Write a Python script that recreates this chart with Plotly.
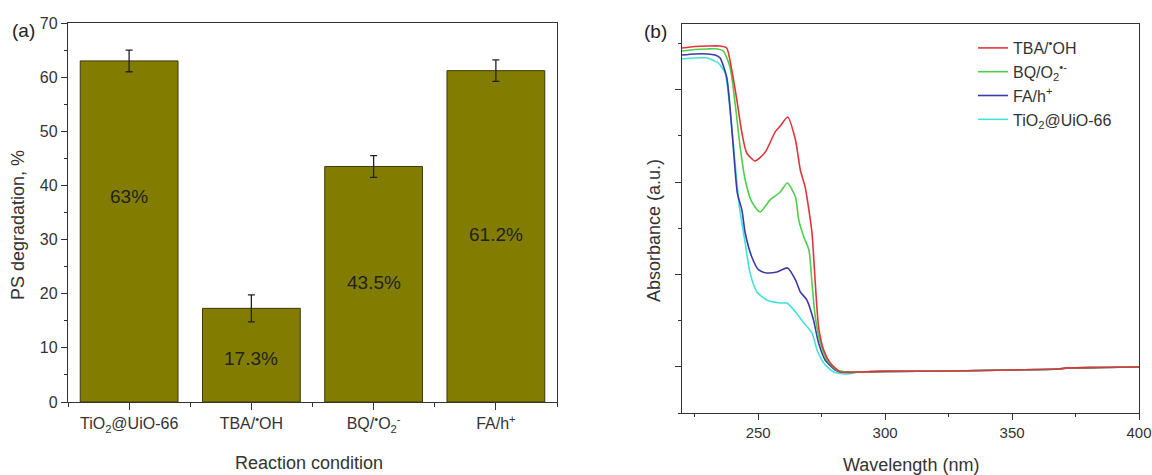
import plotly.graph_objects as go

# ---------------- Panel (a) data ----------------
categories = ["TiO<sub>2</sub>@UiO-66", "TBA/<sup>•</sup>OH", "BQ/<sup>•</sup>O<sub>2</sub><sup>-</sup>", "FA/h<sup>+</sup>"]
degradation = [63.0, 17.3, 43.5, 61.2]
degradation_err = [2.0, 2.5, 2.0, 2.0]
bar_labels = ["63%", "17.3%", "43.5%", "61.2%"]
label_y = [38, 8, 22, 31]

# ---------------- Panel (b) data ----------------
red_wl = [220, 225, 230, 235, 237.6, 239.6, 241.6, 243.6, 245.5, 248.8, 252.8, 256.7, 258.7, 261.6,
          264.7, 266.6, 268.5, 269.8, 271.2, 272.5, 273.8, 275.8, 278.4, 282.3, 286.3]
red_abs = [1.975, 1.983, 1.986, 1.986, 1.975, 1.856, 1.694, 1.515, 1.407, 1.364, 1.412, 1.521, 1.553, 1.602,
           1.477, 1.315, 1.223, 1.115, 0.974, 0.703, 0.465, 0.341, 0.271, 0.222, 0.222]

green_wl = [220, 225, 230, 234, 236.3, 238.9, 240.9, 242.9, 244.9, 247.5, 250.8, 254.7, 258.7, 261.5,
            264.7, 266, 268, 270, 271.2, 272.5, 274.5, 277.1, 281, 285]
green_abs = [1.959, 1.967, 1.970, 1.970, 1.959, 1.872, 1.678, 1.439, 1.261, 1.142, 1.088, 1.153, 1.196, 1.245,
             1.169, 1.044, 0.952, 0.882, 0.703, 0.519, 0.379, 0.287, 0.233, 0.222]

blue_wl = [220, 225, 230, 233, 235, 237.6, 238.9, 240.2, 241.8, 243.6, 244.9, 247.5, 250.2, 253.4, 257.4,
           261.6, 264.7, 266.6, 269.2, 271.8, 273.8, 276.4, 280.4, 285]
blue_abs = [1.937, 1.943, 1.943, 1.937, 1.921, 1.818, 1.656, 1.439, 1.190, 1.098, 0.974, 0.844, 0.774, 0.758, 0.763,
            0.785, 0.720, 0.655, 0.611, 0.503, 0.379, 0.287, 0.233, 0.219]

cyan_wl = [220, 225, 230, 232, 234.3, 237, 238.9, 240.9, 242.6, 244.9, 246.8, 249.5, 253.4, 258.7, 261.3,
           264.7, 268, 271.2, 273.2, 275.8, 279.7, 285]
cyan_abs = [1.916, 1.921, 1.921, 1.910, 1.894, 1.840, 1.640, 1.353, 1.115, 0.920, 0.758, 0.655, 0.611, 0.595, 0.595,
            0.547, 0.487, 0.433, 0.341, 0.271, 0.222, 0.211]

baseline_wl = [290, 300, 326, 350, 368, 372, 385, 400]
baseline_abs = [0.222, 0.225, 0.227, 0.233, 0.238, 0.244, 0.246, 0.249]

series_names = ["TBA/<sup>•</sup>OH", "BQ/O<sub>2</sub><sup>•-</sup>", "FA/h<sup>+</sup>", "TiO<sub>2</sub>@UiO-66"]
series_colors = ["#e3343c", "#4ccf4a", "#3c3aa6", "#42e2da"]

FONT = "Liberation Sans, Arial, sans-serif"
AX = "#333333"
W, H = 1152, 475

def px_x(p):
    return p / W

def px_y(p):
    return 1 - p / H

fig = go.Figure()

# Bars
fig.add_trace(go.Bar(
    x=list(range(len(categories))), y=degradation,
    width=0.8,
    marker=dict(color="#827d00", line=dict(color="#3d3a10", width=1)),
    error_y=dict(type="data", array=degradation_err, color="#222222", thickness=1.3, width=3.5),
    showlegend=False, xaxis="x", yaxis="y",
))

# Spectra
spectra = [(red_wl, red_abs), (green_wl, green_abs), (blue_wl, blue_abs), (cyan_wl, cyan_abs)]
order = [3, 2, 1, 0]
traces = []
for i, ((wl, ab), name, col) in enumerate(zip(spectra, series_names, series_colors)):
    traces.append(go.Scatter(
        x=wl + baseline_wl, y=ab + baseline_abs, mode="lines", name=name,
        line=dict(color=col, width=1.6, shape="spline", smoothing=0.6),
        xaxis="x2", yaxis="y2", legendrank=i + 1,
    ))
for i in order:
    fig.add_trace(traces[i])

for lab, c, yy in zip(bar_labels, range(len(categories)), label_y):
    fig.add_annotation(x=c, y=yy, xref="x", yref="y", text=lab, showarrow=False,
                       xanchor="center", yanchor="middle",
                       font=dict(family=FONT, size=19, color="#222222"))

axis_common = dict(showline=True, linecolor=AX, linewidth=1.3, mirror=True, ticks="outside",
                   tickcolor=AX, tickwidth=1.2, showgrid=False, zeroline=False,
                   ticklabeloverflow="allow", automargin=False)

tick16 = dict(family=FONT, size=16, color="#333333")
tick15 = dict(family=FONT, size=15, color="#333333")

fig.update_layout(
    width=W, height=H,
    margin=dict(l=0, r=0, t=0, b=0, pad=0, autoexpand=False),
    paper_bgcolor="white", plot_bgcolor="white",
    font=dict(family=FONT, color="#333333"),
    bargap=0.2,
    xaxis=dict(domain=[px_x(68), px_x(557)], range=[-0.5, 3.5],
               tickmode="array", tickvals=list(range(len(categories))), ticktext=categories,
               ticklen=7, anchor="y", tickfont=tick16,
               minor=dict(tickmode="array", tickvals=[-0.5, 0.5, 1.5, 2.5, 3.5], ticklen=4,
                          ticks="outside", tickcolor=AX),
               **axis_common),
    yaxis=dict(domain=[px_y(402), px_y(23)], range=[0, 70], dtick=10, tick0=0, ticklen=6,
               anchor="x", tickfont=tick16,
               minor=dict(dtick=5, ticklen=3, ticks="outside", tickcolor=AX),
               **axis_common),
    xaxis2=dict(domain=[px_x(682), px_x(1139)], range=[220, 400], dtick=50, tick0=250,
                ticklen=6, anchor="y2", tickfont=tick15,
                minor=dict(dtick=25, tick0=225, ticklen=3, ticks="outside", tickcolor=AX),
                **axis_common),
    yaxis2=dict(domain=[px_y(413), px_y(24)], range=[0, 2.105], tickmode="array",
                tickvals=[0.25, 0.75, 1.25, 1.75], showticklabels=False, ticklen=6, anchor="x2",
                minor=dict(tickmode="array", tickvals=[0, 0.5, 1.0, 1.5, 2.0], ticklen=3,
                           ticks="outside", tickcolor=AX),
                **axis_common),
    legend=dict(x=px_x(973), y=px_y(31), xanchor="left", yanchor="top",
                bgcolor="rgba(0,0,0,0)", font=dict(family=FONT, size=16, color="#333333"),
                itemwidth=30, tracegroupgap=0),
    showlegend=True,
)

# Titles and panel labels
def label(x, y, text, size, angle=0, color="#333333"):
    fig.add_annotation(x=px_x(x), y=px_y(y), xref="paper", yref="paper", text=text,
                       textangle=angle, showarrow=False, xanchor="center", yanchor="middle",
                       font=dict(family=FONT, size=size, color=color))

label(309, 463, "Reaction condition", 18)
label(18, 225, "PS degradation, %", 18, -90)
label(911, 465, "Wavelength (nm)", 18)
label(654, 231, "Absorbance (a.u.)", 18, -90)
label(23, 31, "(a)", 19, 0, "#222222")
label(655, 32, "(b)", 19, 0, "#222222")

fig.write_html(
    "out.html",
    config={"displayModeBar": False},
    post_script="document.body.style.margin='0';document.body.style.overflow='hidden';",
)
